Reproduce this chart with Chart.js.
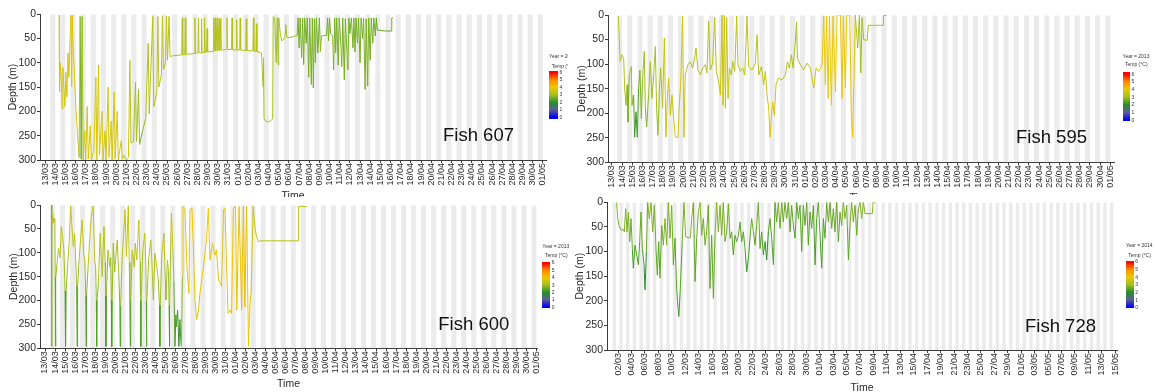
<!DOCTYPE html>
<html><head><meta charset="utf-8">
<script src="https://cdn.jsdelivr.net/npm/chart.js@4.4.1/dist/chart.umd.min.js"></script>
<style>
html,body{margin:0;padding:0;background:#fff;overflow:hidden;width:1155px;height:392px;}
#root{position:relative;width:1155px;height:392px;overflow:hidden;font-family:"Liberation Sans",Arial,sans-serif;}
canvas{position:absolute;background:#fff;}
.txt{position:absolute;white-space:nowrap;line-height:1;}
.bar{position:absolute;}
</style></head><body><div id="root"></div>
<script>
// ---------- tick labels ----------
const dateLabels2013 = ['13/03','14/03','15/03','16/03','17/03','18/03','19/03','20/03','21/03','22/03','23/03','24/03','25/03','26/03','27/03','28/03','29/03','30/03','31/03','01/04','02/04','03/04','04/04','05/04','06/04','07/04','08/04','09/04','10/04','11/04','12/04','13/04','14/04','15/04','16/04','17/04','18/04','19/04','20/04','21/04','22/04','23/04','24/04','25/04','26/04','27/04','28/04','29/04','30/04','01/05'];
const dateLabels2014 = ['02/03','04/03','06/03','08/03','10/03','12/03','14/03','16/03','18/03','20/03','22/03','24/03','26/03','28/03','30/03','01/04','03/04','05/04','07/04','09/04','11/04','13/04','15/04','17/04','19/04','21/04','23/04','25/04','27/04','29/04','01/05','03/05','05/05','07/05','09/05','11/05','13/05','15/05'];
const depthTicks = [0,50,100,150,200,250,300];
const legendTicks = [0,1,2,3,4,5,6];
const tempColors = ['#0000ff','#5c5c96','#26902a','#a2c01e','#ecc800','#ff8a00','#ff0000'];

// ---------- series: [days since first label, depth (m), temperature (°C)] ----------
const fish607 = [
[1.38,2,3.6],[1.42,160,3.7],[1.50,100,3.7],[1.60,140,3.7],[1.68,195,3.7],[1.75,110,3.7],[1.85,150,3.7],[1.95,190,3.7],[2.05,120,3.7],[2.15,170,3.7],
[2.25,80,3.7],[2.35,130,3.7],[2.45,60,3.7],[2.55,3,3.8],[2.62,150,3.7],[2.68,2,3.8],[2.75,60,3.7],[2.90,130,3.7],[3.05,200,3.7],[3.20,250,3.7],
[3.35,295,3.6],[3.45,5,2.5],[3.55,298,2.8],[3.65,5,2.5],[3.75,300,3.6],[3.90,240,3.7],[4.00,300,3.7],[4.15,190,3.7],[4.25,298,3.7],[4.45,230,3.7],
[4.55,300,3.7],[4.80,280,3.7],[5.00,130,3.7],[5.10,300,3.7],[5.25,105,3.7],[5.35,290,3.7],[5.60,200,3.7],[5.70,300,3.7],[5.90,240,3.7],[6.00,300,3.7],
[6.20,150,3.7],[6.30,295,3.7],[6.50,220,3.7],[6.60,300,3.7],[6.80,160,3.7],[6.90,298,3.7],[7.10,200,3.7],[7.20,300,3.7],[7.50,260,3.6],[7.60,298,3.6],
[7.80,290,3.6],[8.00,300,3.6],[8.20,295,3.5],[8.35,95,3.6],[8.45,265,3.0],[8.70,262,2.9],[8.90,140,3.3],[9.00,262,2.8],[9.20,155,3.2],[9.30,268,2.6],
[9.60,240,2.8],[9.90,215,3.0],[10.15,60,3.4],[10.25,205,3.1],[10.60,5,3.4],[10.70,190,3.2],[11.00,160,3.3],[11.10,5,3.4],[11.20,150,3.3],[11.45,125,3.3],
[11.55,5,3.4],[11.65,115,3.3],[11.85,100,3.3],[11.95,5,3.4],[12.05,95,3.3],[12.20,5,3.4],[12.30,88,3.2],[12.50,86,3.2],
[13.45,84,3.2],[13.50,8,3.3],[13.55,84,3.2],[13.75,84,3.2],[13.80,8,3.3],[13.85,83,3.2],[14.70,81,3.2],[14.75,8,3.3],[14.80,81,3.2],
[15.05,80,3.2],[15.10,8,3.3],[15.15,80,3.2],[15.35,80,3.2],[15.40,10,3.3],[15.45,79,3.2],[15.65,79,3.2],[15.70,8,3.3],[15.75,79,3.2],
[15.90,78,3.2],[15.95,30,3.3],[16.00,78,3.2],[16.55,77,3.2],[16.60,8,3.3],[16.65,76,3.2],[16.75,8,3.3],[16.80,76,3.2],[16.95,8,3.3],[17.00,75,3.2],
[17.15,10,3.3],[17.20,75,3.2],[17.30,8,3.3],[17.35,74,3.2],[17.85,73,3.2],[17.90,8,3.3],[17.95,73,3.2],[18.35,73,3.2],[18.40,8,3.3],[18.45,73,3.2],
[18.80,74,3.2],[18.85,12,3.3],[18.90,74,3.2],[19.15,74,3.2],[19.20,8,3.3],[19.25,74,3.2],[19.75,75,3.2],[19.80,10,3.3],[19.85,75,3.2],
[20.45,76,3.2],[20.50,8,3.3],[20.55,76,3.2],[20.75,77,3.2],[20.80,20,3.3],[20.85,77,3.2],
[21.30,80,3.2],[21.45,150,3.1],[21.50,90,3.2],[21.55,215,3.1],[21.70,220,3.1],[22.00,222,3.1],[22.30,218,3.1],[22.40,215,3.1],[22.45,5,3.0],[22.60,8,3.0],
[22.75,100,3.0],[22.85,8,3.0],[22.95,105,3.0],[23.00,8,3.0],[23.15,40,3.0],[23.30,55,3.0],[23.60,50,3.0],[23.70,22,3.0],[23.80,48,3.0],[24.20,48,3.0],
[24.60,45,2.9],[24.80,45,2.9],
[24.90,8,2.4],[25.00,70,2.9],[25.10,8,2.4],[25.25,90,2.9],[25.35,8,2.4],[25.45,104,2.9],[25.55,8,2.4],[25.70,60,2.9],[25.80,8,2.4],[25.95,130,2.9],
[26.05,8,2.4],[26.20,145,2.9],[26.30,8,2.4],[26.40,152,2.9],[26.50,10,2.4],[26.60,100,2.9],[26.70,8,2.4],[26.85,80,2.9],[27.00,8,2.4],[27.10,77,2.9],
[27.20,45,2.8],[27.70,44,2.8],[27.80,8,2.4],[27.90,55,2.9],[28.00,8,2.4],[28.10,40,2.8],[28.30,45,2.8],[28.40,115,2.9],[28.50,8,2.4],[28.60,80,2.9],
[28.70,8,2.4],[28.85,105,2.9],[28.95,8,2.4],[29.10,60,2.9],[29.20,108,2.9],[29.30,8,2.4],[29.45,135,2.9],[29.55,10,2.4],[29.70,75,2.9],[29.80,115,2.9],
[29.90,8,2.4],[30.00,40,2.8],[30.15,8,2.4],[30.30,70,2.9],[30.40,8,2.4],[30.50,78,2.9],[30.60,8,2.4],[30.75,60,2.9],[30.85,8,2.4],[31.00,100,2.9],
[31.10,8,2.4],[31.25,50,2.8],[31.35,8,2.4],[31.50,155,3.0],[31.60,10,2.4],[31.75,148,3.0],[31.85,8,2.4],[32.00,95,2.9],[32.10,8,2.4],[32.25,60,2.8],
[32.35,8,2.4],[32.50,45,2.7],[32.60,8,2.4],[32.70,33,2.5],[33.50,35,2.5],[34.10,35,2.5],[34.12,8,2.7],[34.25,8,2.7]
];
const fish595 = [
[0.62,2,3.3],[0.70,40,3.3],[0.80,95,3.3],[0.98,81,3.3],[1.15,88,3.2],[1.25,149,3.1],[1.38,184,2.9],[1.50,142,3.0],[1.57,218,2.5],[1.70,122,3.0],
[1.90,105,3.1],[1.97,184,2.8],[2.13,163,2.6],[2.23,249,2.1],[2.36,197,2.2],[2.49,249,2.1],[2.62,149,2.5],[2.75,112,2.9],[2.89,211,2.6],[3.00,136,2.9],
[3.18,74,3.1],[3.28,190,2.8],[3.41,228,2.6],[3.60,163,2.9],[3.77,95,3.1],[3.93,170,2.9],[4.10,122,3.0],[4.26,64,3.2],[4.39,190,3.0],[4.52,245,2.8],
[4.66,156,3.0],[4.79,108,3.1],[4.98,190,3.2],[5.15,47,3.6],[5.31,249,3.4],[5.44,170,3.5],[5.57,129,3.6],[5.74,204,3.5],[5.90,163,3.6],[6.07,211,3.6],
[6.23,249,3.7],[6.49,249,3.7],[6.62,184,3.6],[6.75,142,3.6],[6.95,2,3.7],[7.08,249,3.7],[7.20,122,3.3],[7.48,101,3.2],[7.70,95,3.2],[7.93,108,3.2],
[8.13,88,3.2],[8.26,67,3.3],[8.46,112,3.2],[8.69,122,3.2],[8.92,108,3.2],[9.18,101,3.2],[9.34,118,3.2],[9.51,12,3.3],[9.67,112,3.2],[9.90,98,3.2],
[10.10,5,3.3],[10.26,115,3.3],[10.49,136,3.4],[10.66,163,3.5],[10.82,0,3.5],[10.92,184,3.5],[11.05,1,3.5],[11.15,190,3.6],[11.28,5,3.5],[11.41,170,3.5],
[11.54,108,3.4],[11.74,122,3.3],[11.87,95,3.3],[12.07,115,3.3],[12.26,2,3.3],[12.39,101,3.3],[12.62,115,3.3],[12.85,108,3.3],[13.05,122,3.3],[13.28,2,3.4],
[13.44,105,3.3],[13.77,112,3.3],[14.10,98,3.3],[14.26,40,3.4],[14.43,122,3.3],[14.69,105,3.4],[14.92,142,3.5],[15.08,115,3.5],[15.25,163,3.6],[15.41,190,3.7],
[15.54,249,3.8],[15.67,211,3.7],[15.80,177,3.7],[15.97,204,3.7],[16.13,142,3.5],[16.33,129,3.4],[16.72,132,3.4],[17.05,122,3.3],[17.25,95,3.3],[17.44,108,3.3],
[17.64,81,3.2],[17.80,108,3.2],[18.03,53,3.0],[18.15,15,3.0],[18.23,88,3.1],[18.52,101,3.3],[18.85,112,3.4],[19.18,98,3.4],[19.51,108,3.5],[19.84,149,3.6],
[20.07,108,3.6],[20.33,115,3.7],[20.66,101,3.8],[20.82,2,4.0],[20.98,142,4.0],[21.11,2,4.0],[21.25,170,4.0],[21.38,2,4.0],[21.57,184,4.0],[21.74,2,4.0],
[21.97,156,4.0],[22.13,0,4.0],[22.46,0,4.1],[22.62,170,4.0],[22.75,1,4.1],[22.95,149,4.0],[23.08,0,4.1],[23.38,0,4.1],[23.54,211,4.1],[23.67,249,4.2],
[23.80,122,4.0],[23.93,0,3.6],[24.16,67,3.0],[24.33,0,3.0],[24.46,118,2.9],[24.59,5,3.0],[24.75,50,3.1],[25.08,52,3.1],[25.20,21,3.2],[26.65,21,3.2],
[26.70,1,3.3],[27.00,1,3.3]
];
const fish600 = [
[0.66,0,3.4],[0.67,296,2.1],[0.69,40,3.4],[0.78,20,3.5],[0.88,38,3.5],[0.98,28,3.5],
[1.02,150,2.7],[1.05,296,2.1],[1.08,150,2.7],[1.20,122,3.1],[1.35,90,3.3],[1.50,110,3.3],[1.62,45,3.4],[1.75,66,3.4],[1.88,94,3.3],
[2.00,180,2.6],[2.05,296,2.1],[2.10,180,2.6],[2.25,130,3.2],[2.40,80,3.4],[2.56,2,3.6],[2.68,45,3.5],[2.82,87,3.4],[2.95,60,3.4],[3.05,110,3.3],
[3.15,170,2.7],[3.20,296,2.1],[3.25,170,2.7],[3.40,115,3.2],[3.55,70,3.4],[3.70,31,3.5],[3.85,101,3.3],[3.98,120,3.2],
[4.06,190,2.6],[4.10,296,2.1],[4.14,190,2.6],[4.30,129,3.1],[4.45,73,3.4],[4.62,24,3.5],[4.80,2,3.6],[4.95,115,3.4],[5.05,130,3.2],
[5.11,200,2.6],[5.15,296,2.1],[5.19,200,2.6],[5.32,164,3.0],[5.50,59,3.4],[5.70,150,3.2],[5.88,45,3.4],[6.00,120,3.2],
[6.04,190,2.6],[6.08,296,2.1],[6.12,190,2.6],[6.28,94,3.2],[6.45,129,3.1],[6.55,110,3.2],
[6.61,200,2.6],[6.65,296,2.1],[6.69,200,2.6],[6.80,80,3.2],[6.95,140,3.0],[7.05,110,3.1],[7.20,73,3.2],[7.35,143,3.0],
[7.46,210,2.6],[7.50,296,2.1],[7.54,210,2.6],[7.70,108,3.3],[7.90,40,3.5],[7.98,10,3.6],[8.12,108,3.4],[8.30,2,3.6],[8.40,120,3.3],
[8.46,200,2.6],[8.50,296,2.1],[8.54,200,2.6],[8.70,94,3.3],[8.90,130,3.2],[9.00,80,3.4],[9.15,115,3.3],[9.35,31,3.5],[9.48,120,3.3],
[9.52,200,2.6],[9.55,296,2.1],[9.58,200,2.6],[9.75,94,3.4],[9.95,59,3.5],[10.05,130,3.3],
[10.09,200,2.6],[10.12,296,2.1],[10.15,200,2.6],[10.35,108,3.4],[10.55,73,3.5],[10.72,150,3.1],[10.80,199,2.9],[10.95,101,3.4],[11.15,130,3.3],[11.30,157,3.2],
[11.41,210,2.6],[11.45,296,2.1],[11.49,210,2.6],[11.65,101,3.4],[11.85,59,3.5],[12.00,160,3.0],[12.05,199,2.9],[12.20,115,3.4],[12.32,140,3.2],
[12.37,210,2.5],[12.40,296,2.0],[12.43,210,2.5],[12.55,60,3.5],[12.60,17,3.7],[12.75,94,3.4],[12.85,160,2.9],
[12.95,296,2.0],[13.05,230,2.3],[13.10,255,2.2],[13.22,220,2.3],[13.35,296,2.0],[13.45,240,2.2],[13.50,270,2.1],[13.60,296,2.1],
[13.70,150,3.6],[13.75,3,4.1],[13.95,7,4.1],[14.15,129,3.9],[14.35,185,3.8],[14.45,10,4.1],[14.65,7,4.1],[14.80,94,4.0],[14.95,199,3.9],
[15.12,240,3.8],[15.30,220,3.8],[15.45,185,3.8],[15.80,129,3.9],[16.10,73,4.0],[16.28,7,4.1],[16.45,115,3.9],[16.70,80,3.9],[16.95,105,3.9],[17.10,94,3.9],
[17.30,157,3.8],[17.50,164,3.8],[17.60,171,3.7],[17.80,10,4.0],[17.95,7,4.0],[18.10,129,3.9],[18.25,227,3.8],[18.45,220,3.8],[18.60,227,3.8],[18.78,7,4.2],
[19.00,3,4.2],[19.12,220,4.0],[19.35,3,4.2],[19.60,220,4.0],[19.78,3,4.3],[19.93,213,4.1],[20.10,3,4.3],[20.28,296,3.9],[20.45,199,3.8],[20.55,185,3.7],
[20.75,3,3.5],[20.95,52,3.4],[21.10,66,3.4],[21.25,77,3.3],[21.45,75,3.3],[25.25,75,3.3],[25.28,3,3.3],[26.08,3,3.3]
];
const fish728 = [
[-0.20,0,2.7],[-0.05,33,2.6],[0.15,47,2.6],[0.45,57,2.7],[0.80,55,2.7],[0.94,60,2.6],[1.14,13,2.8],[1.34,60,2.6],[1.54,20,2.8],[1.74,80,2.5],
[1.93,33,2.7],[2.13,94,2.4],[2.28,134,2.1],[2.53,87,2.4],[2.78,107,2.3],[3.03,127,2.2],[3.22,80,2.5],[3.42,20,2.7],[3.62,94,2.4],[3.87,127,2.2],
[4.02,178,1.6],[4.22,100,2.3],[4.41,0,2.8],[4.66,33,2.7],[4.91,0,2.8],[5.16,60,2.6],[5.41,6,2.8],[5.65,94,2.5],[5.85,148,2.3],[6.05,80,2.5],
[6.25,154,2.3],[6.50,47,2.7],[6.75,87,2.6],[6.99,33,2.8],[7.24,87,2.6],[7.49,0,2.8],[7.74,73,2.6],[7.99,6,2.8],[8.23,127,2.4],[8.48,73,2.5],
[8.70,168,2.3],[8.85,202,2.2],[9.05,232,2.1],[9.25,181,2.3],[9.55,80,2.5],[9.82,0,2.8],[10.07,70,2.6],[10.47,72,2.6],[10.76,72,2.6],[10.96,33,2.7],
[11.21,0,2.8],[11.46,161,2.3],[11.71,73,2.5],[11.95,20,2.7],[12.20,0,2.8],[12.45,67,2.6],[12.70,33,2.7],[12.95,87,2.5],[13.19,60,2.6],[13.44,6,2.8],
[13.69,175,2.3],[13.94,67,2.6],[14.19,195,2.3],[14.43,67,2.6],[14.68,0,2.8],[14.93,60,2.6],[15.18,6,2.8],[15.43,67,2.6],[15.67,0,2.8],[15.92,80,2.5],
[16.17,60,2.5],[16.42,3,2.7],[16.67,73,2.5],[16.91,60,2.5],[17.16,107,2.3],[17.41,67,2.4],[17.66,80,2.4],[17.91,67,2.4],[18.15,40,2.5],[18.40,80,2.4],
[18.65,60,2.4],[18.90,94,2.3],[19.15,141,2.0],[19.40,114,2.2],[19.64,73,2.4],[19.89,33,2.6],[20.14,60,2.5],[20.39,87,2.4],[20.63,47,2.5],[20.88,0,2.7],
[21.13,94,2.3],[21.38,60,2.4],[21.63,107,2.2],[21.88,80,2.3],[22.12,117,1.7],[22.37,60,2.3],[22.62,33,2.5],[22.87,73,2.4],[23.12,127,2.2],[23.36,0,2.6],
[23.61,40,2.5],[23.86,0,2.7],[24.11,53,2.5],[24.36,0,2.7],[24.60,40,2.5],[24.85,0,2.6],[25.10,33,2.5],[25.35,0,2.6],[25.60,60,2.4],[25.84,6,2.5],
[26.09,47,2.4],[26.34,73,2.3],[26.59,0,2.5],[26.84,33,2.4],[27.08,6,2.5],[27.33,100,2.3],[27.58,6,2.5],[27.83,47,2.4],[28.08,0,2.6],[28.32,87,2.3],
[28.57,20,2.5],[28.82,53,2.4],[29.07,6,2.5],[29.32,127,2.2],[29.56,33,2.4],[29.81,0,2.6],[30.06,67,2.4],[30.31,134,2.2],[30.56,33,2.4],[30.80,73,2.4],
[31.05,0,2.6],[31.30,40,2.5],[31.55,0,2.6],[31.80,53,2.4],[32.04,13,2.6],[32.29,60,2.4],[32.54,0,2.7],[32.79,80,2.3],[33.04,20,2.6],[33.28,47,2.5],
[33.53,0,2.8],[33.78,33,2.6],[34.03,6,2.7],[34.28,117,2.3],[34.52,47,2.5],[34.77,0,2.8],[35.02,40,2.6],[35.27,6,2.7],[35.52,67,2.4],[35.76,13,2.7],
[36.01,0,2.8],[36.26,33,2.6],[36.51,0,2.8],[36.76,23,2.7],[37.85,23,2.7],[37.95,0,2.8],[38.30,0,2.8]
];

// ---------- helpers ----------
const FONT = '"Liberation Sans", Arial, sans-serif';
const AXIS = '#3a3a3a', TXT = '#2a2a2a';
const root = document.getElementById('root');
function hexRgb(h){return [parseInt(h.slice(1,3),16),parseInt(h.slice(3,5),16),parseInt(h.slice(5,7),16)];}
function tempColor(v){
  v = Math.max(0, Math.min(6, v));
  const i = Math.min(5, Math.floor(v)), f = v - i;
  const a = hexRgb(tempColors[i]), b = hexRgb(tempColors[i+1]);
  return 'rgb(' + a.map((c,k)=>Math.round(c + (b[k]-c)*f)).join(',') + ')';
}
function addText(txt, left, cy, size, color){
  const el = document.createElement('div'); el.className = 'txt'; el.textContent = txt;
  el.style.left = left + 'px'; el.style.top = (cy - size*0.49) + 'px';
  el.style.fontSize = size + 'px'; el.style.color = color; root.appendChild(el);
}
function addLegend(L, year){
  addText(year, L.x, L.yearY, 5, '#333');
  addText('Temp (°C)', L.tempX, L.tempY, 5, '#333');
  const bar = document.createElement('div'); bar.className = 'bar';
  bar.style.left = L.x + 'px'; bar.style.top = L.barTop + 'px';
  bar.style.width = L.barW + 'px'; bar.style.height = (L.barBottom - L.barTop) + 'px';
  const yOf = v => L.y0 - v*(L.y0 - L.y6)/6;
  const stops = legendTicks.slice().reverse().map(v => tempColor(v) + ' ' + ((yOf(v)-L.barTop)/(L.barBottom-L.barTop)*100).toFixed(1) + '%');
  bar.style.background = 'linear-gradient(to bottom,' + stops.join(',') + ')';
  root.appendChild(bar);
  legendTicks.forEach(v => addText(String(v), L.x + L.barW + 1.5, yOf(v), 5, '#333'));
}

function makePanel(p){
  const cv = document.createElement('canvas');
  cv.width = p.cv.w; cv.height = p.cv.h;
  cv.style.left = p.cv.left + 'px'; cv.style.top = p.cv.top + 'px';
  cv.style.width = p.cv.w + 'px'; cv.style.height = p.cv.h + 'px';
  root.appendChild(cv);
  const pts = p.data.map(r => ({x: r[0], y: r[1]}));
  const temps = p.data.map(r => r[2]);
  const bands = [];
  for (let d = p.bandFrom; d <= p.bandTo; d++) bands.push({x: d + p.bandOffset, y: [0, 300]});
  new Chart(cv, {
    type: 'line',
    data: {datasets: [
      {type: 'line', data: pts, parsing: false, borderWidth: 1, pointRadius: 0, tension: 0, fill: false, order: 0,
       borderColor: tempColor(temps[0]),
       segment: {borderColor: c => tempColor((temps[c.p0DataIndex] + temps[c.p1DataIndex]) / 2)}},
      {type: 'bar', data: bands, backgroundColor: '#ebebeb', borderWidth: 0, categoryPercentage: 1, barPercentage: 0.5, grouped: false, order: 1}
    ]},
    options: {
      responsive: false, animation: false, devicePixelRatio: 1, events: [],
      layout: {padding: p.pad, autoPadding: false},
      plugins: {legend: {display: false}, tooltip: {enabled: false}},
      scales: {
        x: {type: 'linear', position: 'bottom', min: p.xMin, max: p.xMax, offset: false,
            grid: {display: true, drawOnChartArea: false, drawTicks: true, tickLength: 3, color: AXIS, offset: false},
            border: {display: true, color: AXIS, width: 1},
            ticks: {autoSkip: false, maxRotation: 90, minRotation: 90, padding: 0, color: TXT, font: {family: FONT, size: 9},
                    callback: (v, i) => p.labels[i]},
            afterBuildTicks: s => { s.ticks = p.labels.map((l, i) => ({value: i * p.tickStep})); },
            afterFit: s => { s.height = p.xH; },
            title: {display: true, text: 'Time', color: TXT, font: {family: FONT, size: 10.5}, padding: {top: 0, bottom: p.xTitlePad}}},
        y: {type: 'linear', position: 'left', min: 0, max: 300, reverse: true,
            grid: {display: true, drawOnChartArea: false, drawTicks: true, tickLength: 3, color: AXIS},
            border: {display: true, color: AXIS, width: 1},
            ticks: {color: TXT, font: {family: FONT, size: 10.5}, padding: 1},
            afterBuildTicks: s => { s.ticks = depthTicks.map(v => ({value: v})); },
            afterFit: s => { s.width = p.yW; },
            title: {display: true, text: 'Depth (m)', color: TXT, font: {family: FONT, size: 10.5}, padding: {top: p.yTitlePad, bottom: 0}}}
      }
    }
  });
  addLegend(p.legend, p.year);
  addText(p.fish, p.fishPos.left, p.fishPos.cy, 18.5, '#111');
}

const panels = [
  {fish: 'Fish 607', data: fish607, labels: dateLabels2013, tickStep: 1, year: 'Year = 2013',
   cv: {left: 0, top: 0, w: 556, h: 210}, pad: {top: 14, right: 10, bottom: 0, left: 0}, yW: 40, xH: 50, yTitlePad: 6.8, xTitlePad: 7.7,
   xMin: -0.5, xMax: 49.3, bandFrom: 0, bandTo: 48, bandOffset: 0.75, fishPos: {left: 443, cy: 135.5},
   legend: {x: 549, tempX: 551.7, yearY: 56.7, tempY: 66.5, barTop: 71, barBottom: 119, barW: 9, y6: 72.3, y0: 117.3}},
  {fish: 'Fish 600', data: fish600, labels: dateLabels2013, tickStep: 1, year: 'Year = 2013',
   cv: {left: 0, top: 197, w: 556, h: 195}, pad: {top: 8, right: 19, bottom: 0, left: 0}, yW: 40, xH: 43.7, yTitlePad: 8.0, xTitlePad: 1.7,
   xMin: -0.5, xMax: 49.05, bandFrom: 0, bandTo: 48, bandOffset: 0.75, fishPos: {left: 438.3, cy: 324.5},
   legend: {x: 542.3, tempX: 545, yearY: 246.7, tempY: 255, barTop: 261.7, barBottom: 308.3, barW: 8, y6: 262.7, y0: 307.3}},
  {fish: 'Fish 595', data: fish595, labels: dateLabels2013, tickStep: 1, year: 'Year = 2013',
   cv: {left: 568, top: 0, w: 587, h: 210}, pad: {top: 15, right: 41, bottom: 0, left: 0}, yW: 40, xH: 47.7, yTitlePad: 7.7, xTitlePad: 5.7,
   xMin: -0.39, xMax: 49.36, bandFrom: 0, bandTo: 48, bandOffset: 0.75, fishPos: {left: 1016, cy: 137.3},
   legend: {x: 1122.5, tempX: 1125, yearY: 56, tempY: 64.3, barTop: 72.3, barBottom: 121, barW: 7.5, y6: 74.3, y0: 120}},
  {fish: 'Fish 728', data: fish728, labels: dateLabels2014, tickStep: 2, year: 'Year = 2014',
   cv: {left: 572, top: 195, w: 583, h: 200}, pad: {top: 6.7, right: 38, bottom: 0, left: 0}, yW: 35, xH: 45, yTitlePad: 1.7, xTitlePad: 0.7,
   xMin: -1.64, xMax: 74.25, bandFrom: -1, bandTo: 73, bandOffset: 0.45, fishPos: {left: 1025, cy: 326},
   legend: {x: 1125.7, tempX: 1128.3, yearY: 245.7, tempY: 255, barTop: 261, barBottom: 308.3, barW: 8, y6: 261.7, y0: 307.7}}
];
panels.forEach(makePanel);
</script></body></html>
